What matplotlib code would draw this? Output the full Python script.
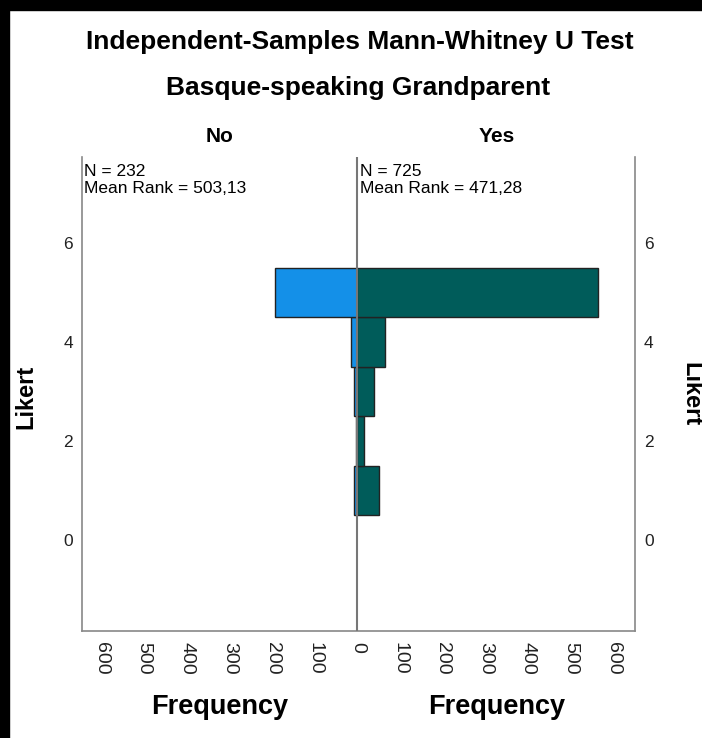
import matplotlib
import matplotlib.pyplot as plt
from matplotlib.patches import Rectangle

matplotlib.use('Agg')

plt.rcParams['font.family'] = ['Liberation Sans', 'DejaVu Sans']

# Likert values and frequencies per group
likert = [1, 2, 3, 4, 5]
freq_no = [9, 4, 7, 14, 192]
freq_yes = [50, 16, 39, 65, 564]
groups = ['No', 'Yes']
n_values = [232, 725]
mean_ranks = ['503,13', '471,28']
x_ticks = [-600, -500, -400, -300, -200, -100, 0, 100, 200, 300, 400, 500, 600]
y_ticks = [0, 2, 4, 6]

color_no = '#1490E8'
color_yes = '#005C5A'


def plot():
    fig = plt.figure(figsize=(7.02, 7.38), dpi=100)
    fig.patch.set_facecolor('white')
    # black border strips of the screenshot
    fig.patches.append(Rectangle((0, 1 - 10 / 738), 1, 10 / 738, transform=fig.transFigure,
                                 color='black', zorder=-1))
    fig.patches.append(Rectangle((0, 0), 9 / 702, 1, transform=fig.transFigure,
                                 color='black', zorder=-1))

    ax = fig.add_axes([82 / 702, 1 - 631 / 738, 553 / 702, 474 / 738])

    ax.barh(likert, [-v for v in freq_no], height=1.0, color=color_no,
            edgecolor='#222222', linewidth=1.0, zorder=2)
    ax.barh(likert, freq_yes, height=1.0, color=color_yes,
            edgecolor='#222222', linewidth=1.0, zorder=2)
    ax.axvline(0, color='#777777', linewidth=1.5, zorder=3)

    ax.set_xlim(-645, 650)
    ax.set_ylim(-1.84, 7.74)
    ax.set_xticks(x_ticks)
    ax.set_xticklabels([str(abs(t)) for t in x_ticks], rotation=-90, fontsize=14)
    ax.set_yticks(y_ticks)
    ax.set_yticklabels([str(t) for t in y_ticks], fontsize=12.5)
    ax.tick_params(axis='both', length=0, colors='#222222')
    ax.tick_params(axis='x', pad=8)
    ax.tick_params(axis='y', pad=6.5, labelright=True)
    ax.spines['top'].set_visible(False)
    for s in ['left', 'right', 'bottom']:
        ax.spines[s].set_color('#888888')
        ax.spines[s].set_linewidth(1.2)

    # group stats
    for n, mr, xpos in zip(n_values, mean_ranks, [-645, 0]):
        ax.text(xpos + 5, 7.60, f'N = {n}\nMean Rank = {mr}', fontsize=12.5,
                va='top', ha='left', linespacing=1.2)
    fig.text(220 / 702, 1 - 136 / 738, groups[0], fontsize=15, fontweight='bold',
             ha='center', va='center')
    fig.text(497 / 702, 1 - 136 / 738, groups[1], fontsize=15, fontweight='bold',
             ha='center', va='center')

    fig.text(360 / 702, 1 - 42 / 738, 'Independent-Samples Mann-Whitney U Test',
             fontsize=19, fontweight='bold', ha='center', va='center')
    fig.text(358 / 702, 1 - 88 / 738, 'Basque-speaking Grandparent',
             fontsize=19, fontweight='bold', ha='center', va='center')

    fig.text(220 / 702, 1 - 707 / 738, 'Frequency', fontsize=19.5, fontweight='bold',
             ha='center', va='center')
    fig.text(497 / 702, 1 - 707 / 738, 'Frequency', fontsize=19.5, fontweight='bold',
             ha='center', va='center')
    fig.text(26 / 702, 1 - 397 / 738, 'Likert', fontsize=17, fontweight='bold',
             ha='center', va='center', rotation=90)
    fig.text(691 / 702, 1 - 394 / 738, 'Likert', fontsize=17, fontweight='bold',
             ha='center', va='center', rotation=-90)

    fig.savefig('out.png', dpi=100)


if __name__ == '__main__':
    plot()
